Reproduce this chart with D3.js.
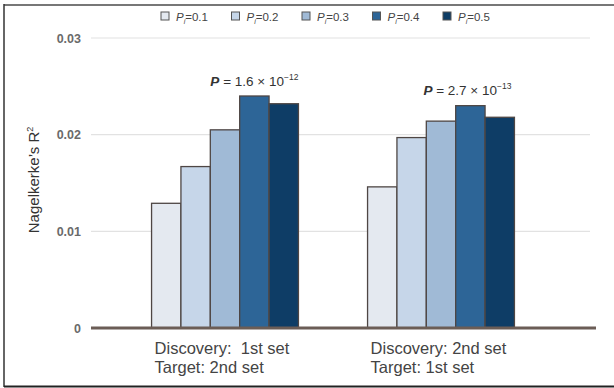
<!DOCTYPE html>
<html>
<head>
<meta charset="utf-8">
<script src="https://cdn.jsdelivr.net/npm/d3@7"></script>
<style>
  body { margin: 0; background: #fff; }
  svg { display: block; font-family: "Liberation Sans", Arial, sans-serif; }
</style>
</head>
<body>
<div id="chart"></div>
<script>
// data
const groups = ["Discovery: 1st set / Target: 2nd set", "Discovery: 2nd set / Target: 1st set"];
const groupLines = [["Discovery:  1st set", "Target: 2nd set"], ["Discovery: 2nd set", "Target: 1st set"]];
const seriesNames = ["0.1", "0.2", "0.3", "0.4", "0.5"];
const set1Values = [0.0129, 0.0167, 0.0205, 0.0240, 0.0232];
const set2Values = [0.0146, 0.0197, 0.0214, 0.0230, 0.0218];
const pLabels = [["1.6", "−12"], ["2.7", "−13"]];
const yTicks = [0, 0.01, 0.02, 0.03];
const colors = ["#e4e9f0", "#c6d6e9", "#a0bad6", "#2d6597", "#0e3d66"];

const width = 614, height = 388;
const svg = d3.select("#chart").append("svg")
    .attr("width", width)
    .attr("height", height);

// frame
svg.append("line").attr("x1", 4).attr("x2", width).attr("y1", 5).attr("y2", 5)
    .attr("stroke", "#777").attr("stroke-width", 2);
svg.append("line").attr("x1", 4).attr("x2", 4).attr("y1", 4).attr("y2", 387)
    .attr("stroke", "#333").attr("stroke-width", 1.5);
svg.append("line").attr("x1", 4).attr("x2", width).attr("y1", 386.5).attr("y2", 386.5)
    .attr("stroke", "#222").attr("stroke-width", 2);

const y = d3.scaleLinear().domain([0, 0.03]).range([328, 38]);

const x0 = d3.scaleBand().domain(groups).range([117, 549])
    .paddingInner(0.32).paddingOuter(0.16);
const x1 = d3.scaleBand().domain(seriesNames).range([0, x0.bandwidth()]);

// gridlines
svg.append("g").selectAll("line")
    .data(yTicks.slice(1))
    .enter().append("line")
    .attr("x1", 91).attr("x2", 590)
    .attr("y1", d => y(d)).attr("y2", d => y(d))
    .attr("stroke", "#e2e2e2").attr("stroke-width", 1.2);

// tick labels
svg.append("g").selectAll("text")
    .data(yTicks)
    .enter().append("text")
    .attr("x", 81)
    .attr("y", d => y(d) + 4.5)
    .attr("text-anchor", "end")
    .attr("font-size", 12.5)
    .attr("font-weight", "bold")
    .attr("fill", "#6a6a6a")
    .text(d => d === 0 ? "0" : d3.format(".2f")(d));

// y axis title
svg.append("text")
    .attr("transform", "translate(39,180) rotate(-90)")
    .attr("text-anchor", "middle")
    .attr("font-size", 15)
    .attr("fill", "#333")
    .html('Nagelkerke\u2019s R<tspan dy="-6" font-size="9">2</tspan>');

// bars
const allValues = [set1Values, set2Values];
const g = svg.append("g").selectAll("g")
    .data(groups)
    .enter().append("g")
    .attr("transform", d => "translate(" + x0(d) + ",0)");

g.selectAll("rect")
    .data((d, i) => allValues[i].map((v, j) => ({ key: seriesNames[j], value: v, idx: j })))
    .enter().append("rect")
    .attr("x", d => x1(d.key))
    .attr("y", d => y(d.value))
    .attr("width", x1.bandwidth())
    .attr("height", d => y(0) - y(d.value))
    .attr("fill", d => colors[d.idx])
    .attr("stroke", "#4e4644")
    .attr("stroke-width", 1.3);

// P annotations
g.append("text")
    .attr("x", (d, i) => x1("0.4") + x1.bandwidth() * (i === 0 ? 0.5 : 0.4))
    .attr("y", (d, i) => i === 0 ? 86 : 95)
    .attr("text-anchor", "middle")
    .attr("font-size", 13.5)
    .attr("fill", "#333")
    .each(function(d, i) {
        const t = d3.select(this);
        t.append("tspan").attr("font-style", "italic").attr("font-weight", "bold").text("P");
        t.append("tspan").text(" = " + pLabels[i][0] + " \u00d7 10");
        t.append("tspan").attr("dy", -6).attr("font-size", 8.5).text(pLabels[i][1]);
    });

// category labels
g.each(function(d, i) {
    const sel = d3.select(this);
    groupLines[i].forEach((line, k) => {
        sel.append("text")
            .attr("x", 3)
            .attr("y", 354 + k * 19)
            .attr("font-size", 16.5)
            .attr("fill", "#444")
            .style("white-space", "pre")
            .text(line);
    });
});

// zero axis line
svg.append("line")
    .attr("x1", 91).attr("x2", 596)
    .attr("y1", y(0)).attr("y2", y(0))
    .attr("stroke", "#6b5d56").attr("stroke-width", 3);

// legend
const legend = svg.append("g").selectAll("g")
    .data(seriesNames)
    .enter().append("g")
    .attr("transform", (d, i) => "translate(" + (161 + i * 70.5) + ",11)");

legend.append("rect")
    .attr("width", 8).attr("height", 8)
    .attr("y", 1)
    .attr("fill", (d, i) => colors[i])
    .attr("stroke", "#555").attr("stroke-width", 1);

legend.append("text")
    .attr("x", 15).attr("y", 9.5)
    .attr("font-size", 11.5)
    .attr("fill", "#444")
    .each(function(d) {
        const t = d3.select(this);
        t.append("tspan").attr("font-style", "italic").text("P");
        t.append("tspan").attr("dy", 3).attr("font-size", 7).attr("font-style", "italic").text("i");
        t.append("tspan").attr("dy", -3).text("=" + d);
    });
</script>
</body>
</html>
